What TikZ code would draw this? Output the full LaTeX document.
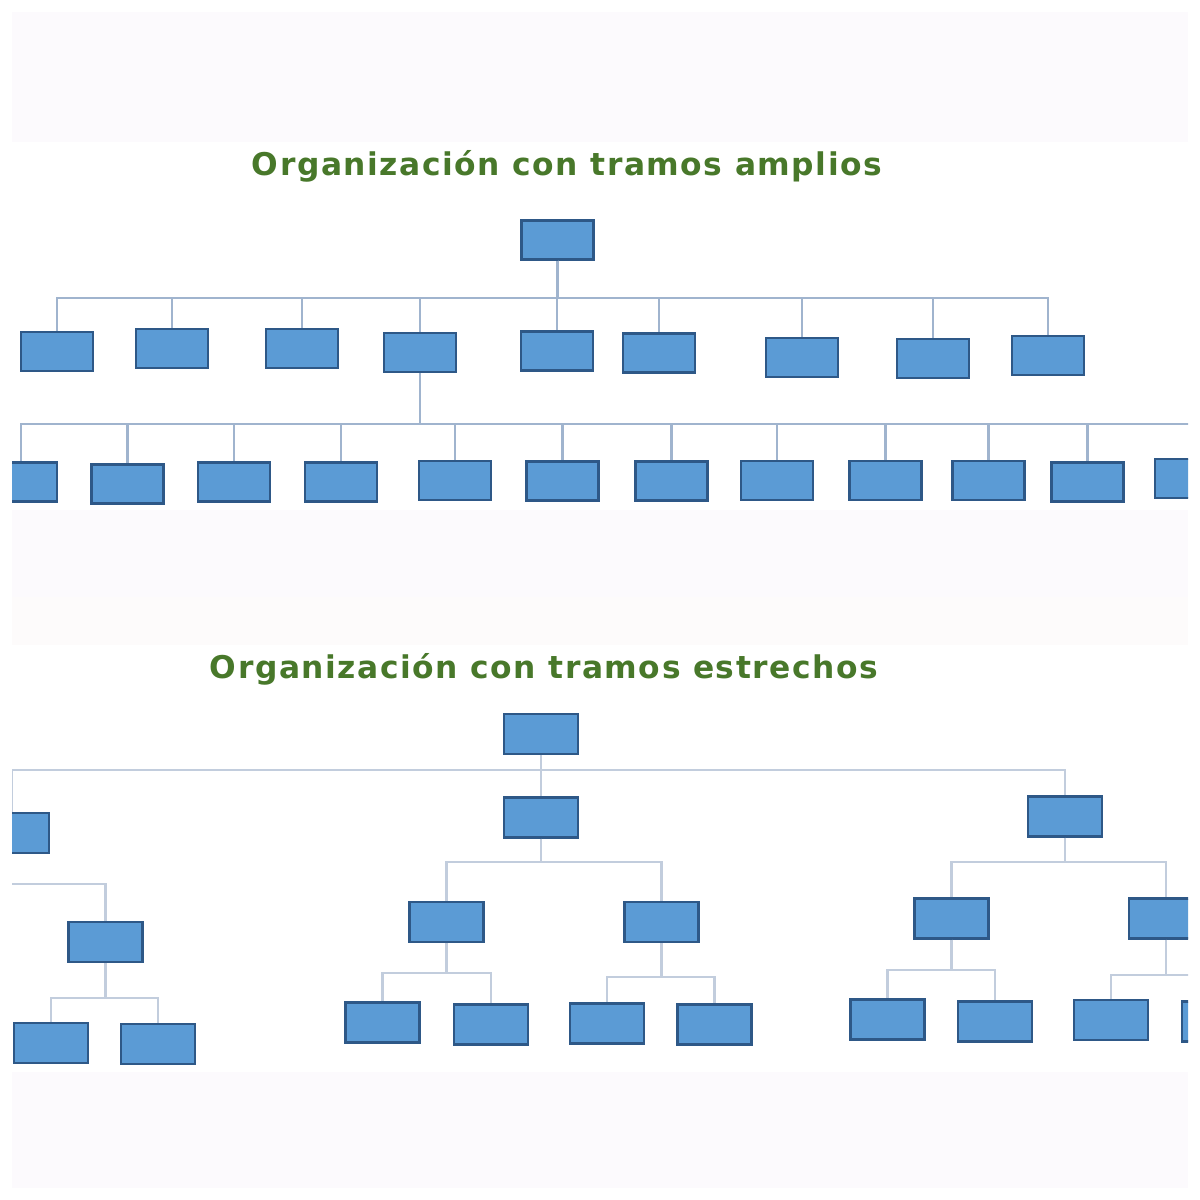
\documentclass[tikz,border=0pt]{standalone}
\usepackage{fontspec}
\newfontfamily\titlefont[LetterSpace=5]{DejaVu Sans Bold}
\definecolor{boxfill}{RGB}{91,155,213}
\definecolor{boxline}{RGB}{46,88,135}
\definecolor{linkA}{RGB}{160,180,206}
\definecolor{linkB}{RGB}{194,205,221}
\definecolor{titlegreen}{RGB}{72,120,42}
\definecolor{band}{RGB}{252,250,253}
\definecolor{bandb}{RGB}{253,251,251}
\begin{document}
\begin{tikzpicture}[x=0.01cm,y=-0.01cm,
  obox/.style={rectangle,draw=boxline,fill=boxfill,line width=0.6pt,inner sep=0pt,minimum width=0.72cm,minimum height=0.39cm},
  pbox/.style={obox,minimum width=0.74cm,minimum height=0.40cm},
  linka/.style={draw=linkA,line width=0.6pt},
  linkb/.style={draw=linkB,line width=0.6pt},
  ttl/.style={text=titlegreen,font=\titlefont\fontsize{8.9pt}{10pt}\selectfont,inner sep=0pt}]
\useasboundingbox (0,0) rectangle (1200,1200);
\fill[white] (0,0) rectangle (1200,1200);
\fill[band] (12,12) rectangle (1188,142);
\fill[band] (12,510) rectangle (1188,597);
\fill[bandb] (12,597) rectangle (1188,645);
\fill[band] (12,1072) rectangle (1188,1188);

\begin{scope}
\clip (12,12) rectangle (1188,1188);
% ---------- titles
\node[ttl] (t1) at (567,166) {Organización con tramos amplios};
\node[ttl] (t2) at (544,669) {Organización con tramos estrechos};

% ---------- wide span
\node[obox] (r) at (557.5,240) {};
\coordinate (barA) at (0,298);
\foreach \n/\x/\y in {1/57/351.5,2/172/348.5,3/302/348.5,4/420/352.5,5/557/351,6/659/353,7/802/357.5,8/933/358.5,9/1048/355.5}{
  \node[obox] (a\n) at (\x,\y) {};
}
\foreach \n in {1,...,9}{
  \draw[linka] (r.south) -- (r.south |- barA) -| (a\n.north);
}
\coordinate (barB) at (0,424);
\foreach \n/\x/\y in {1/21/482,2/127.5/484,3/234/482,4/341/482,5/455/480.5,6/562.5/481,7/671.5/481,8/777/480.5,9/885.5/480.5,10/988.5/480.5,11/1087.5/482,12/1191/478.5}{
  \node[obox] (b\n) at (\x,\y) {};
}
\foreach \n in {1,...,12}{
  \draw[linka] (a4.south) -- (a4.south |- barB) -| (b\n.north);
}

% ---------- narrow span
\node[pbox] (R) at (541,734) {};
\node[pbox] (L) at (12,833) {};
\node[pbox] (M) at (541,817.5) {};
\node[pbox] (Q) at (1065,816.5) {};
\coordinate (barC) at (0,770);
\foreach \c in {L,M,Q}{
  \draw[linkb] (R.south) -- (R.south |- barC) -| (\c.north);
}
% left subtree
\node[pbox] (L2) at (105.5,942) {};
\coordinate (Lbar) at (-20,884);
\draw[linkb] (Lbar) -| (L2.north);
\node[pbox] (L2a) at (51,1043) {};
\node[pbox] (L2b) at (158,1044) {};
\draw[linkb] (L2.south) -- (L2.south |- 0,998) -| (L2a.north);
\draw[linkb] (L2.south) -- (L2.south |- 0,998) -| (L2b.north);
% middle subtree
\node[pbox] (ML) at (446.5,922) {};
\node[pbox] (MR) at (661.5,922) {};
\draw[linkb] (M.south) -- (M.south |- 0,862) -| (ML.north);
\draw[linkb] (M.south) -- (M.south |- 0,862) -| (MR.north);
\node[pbox] (MLa) at (382.5,1022.5) {};
\node[pbox] (MLb) at (491,1024.5) {};
\draw[linkb] (ML.south) -- (ML.south |- 0,973) -| (MLa.north);
\draw[linkb] (ML.south) -- (ML.south |- 0,973) -| (MLb.north);
\node[pbox] (MRa) at (607,1023.5) {};
\node[pbox] (MRb) at (714.5,1024.5) {};
\draw[linkb] (MR.south) -- (MR.south |- 0,977) -| (MRa.north);
\draw[linkb] (MR.south) -- (MR.south |- 0,977) -| (MRb.north);
% right subtree
\node[pbox] (QL) at (951.5,918.5) {};
\node[pbox] (QR) at (1166,918.5) {};
\draw[linkb] (Q.south) -- (Q.south |- 0,862) -| (QL.north);
\draw[linkb] (Q.south) -- (Q.south |- 0,862) -| (QR.north);
\node[pbox] (QLa) at (887.5,1019.5) {};
\node[pbox] (QLb) at (995,1021.5) {};
\draw[linkb] (QL.south) -- (QL.south |- 0,970) -| (QLa.north);
\draw[linkb] (QL.south) -- (QL.south |- 0,970) -| (QLb.north);
\node[pbox] (QRa) at (1111,1020) {};
\node[pbox] (QRb) at (1219,1021.5) {};
\draw[linkb] (QR.south) -- (QR.south |- 0,975) -| (QRa.north);
\draw[linkb] (QR.south) -- (QR.south |- 0,975) -| (QRb.north);
\end{scope}
\end{tikzpicture}
\end{document}
